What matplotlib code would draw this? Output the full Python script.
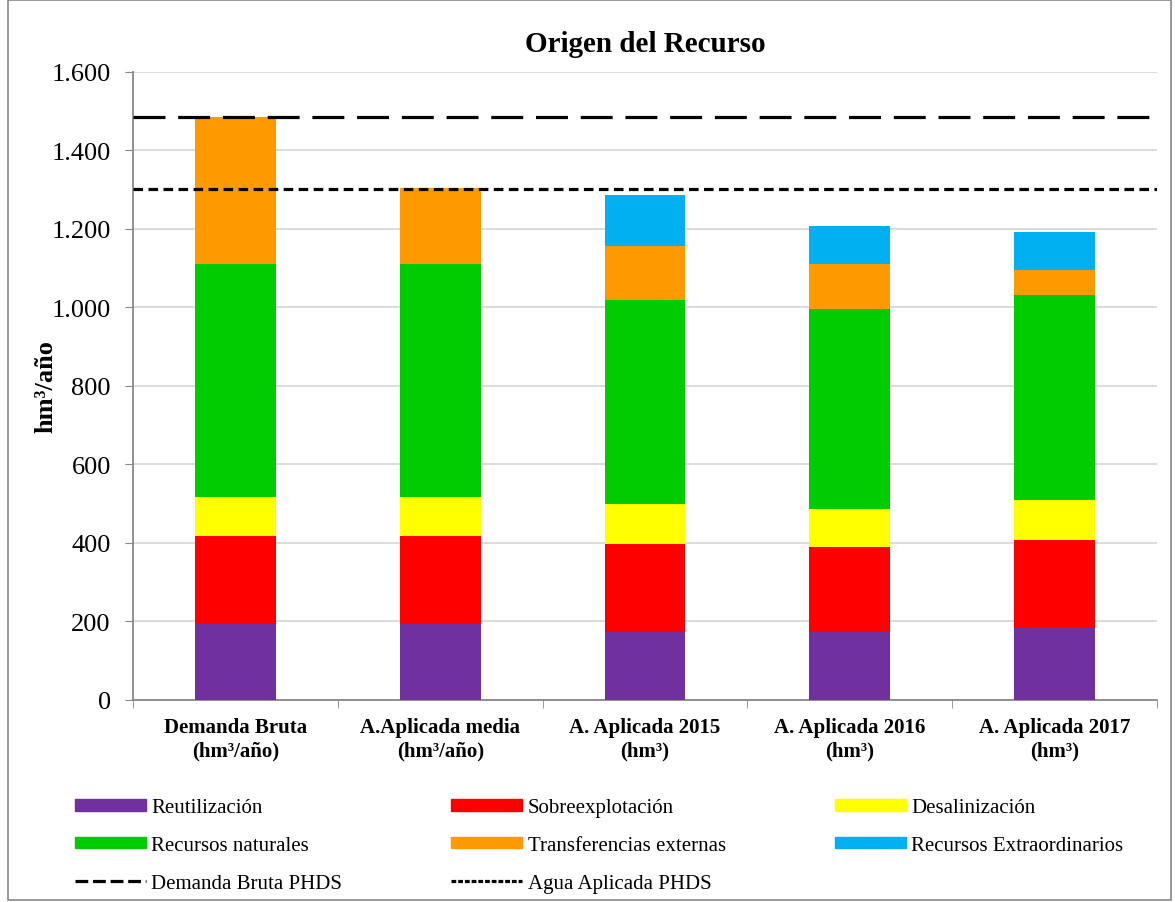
import matplotlib.pyplot as plt
import matplotlib.patches as mpatches
from matplotlib.lines import Line2D
from matplotlib.ticker import FuncFormatter
import numpy as np

plt.rcParams['font.family'] = ['Liberation Serif', 'DejaVu Serif']

categories = ['Demanda Bruta\n(hm³/año)', 'A.Aplicada media\n(hm³/año)',
              'A. Aplicada 2015\n(hm³)', 'A. Aplicada 2016\n(hm³)', 'A. Aplicada 2017\n(hm³)']

reutilizacion = [193, 193, 173, 173, 183]
sobreexplotacion = [225, 225, 224, 217, 225]
desalinizacion = [99, 99, 102, 97, 102]
naturales = [594, 594, 520, 509, 522]
transferencias = [374, 193, 138, 115, 64]
extraordinarios = [0, 0, 130, 97, 96]

demanda_phds = 1485
aplicada_phds = 1302

series = [
    ('Reutilización', reutilizacion, '#7030a0'),
    ('Sobreexplotación', sobreexplotacion, '#ff0000'),
    ('Desalinización', desalinizacion, '#ffff00'),
    ('Recursos naturales', naturales, '#00cc00'),
    ('Transferencias externas', transferencias, '#ff9900'),
    ('Recursos Extraordinarios', extraordinarios, '#00b0f0'),
]

fig = plt.figure(figsize=(11.75, 9.03), dpi=100)
ax = fig.add_axes([0.1132, 0.2237, 0.8715, 0.6955])

x = np.arange(len(categories))
bottom = np.zeros(len(categories))
handles = {}
for name, vals, col in series:
    ax.bar(x, vals, 0.395, bottom=bottom, color=col, zorder=3)
    handles[name] = mpatches.Patch(color=col, label=name)
    bottom += np.array(vals)

ax.axhline(demanda_phds, color='black', lw=2.3, dashes=(10, 4), zorder=4)
ax.axhline(aplicada_phds, color='black', lw=2.3, dashes=(3, 1.7), zorder=4)

ax.set_xlim(-0.5, len(categories) - 0.5)
ax.set_ylim(0, 1600)
ax.set_yticks(np.arange(0, 1601, 200))
ax.yaxis.set_major_formatter(FuncFormatter(lambda v, p: f'{int(v):,}'.replace(',', '.')))
ax.grid(axis='y', color='#d9d9d9', lw=1.3, zorder=0)
ax.set_axisbelow(True)

ax.set_xticks(x)
ax.set_xticklabels(categories, fontsize=15, fontweight='bold', linespacing=1.25)
ax.set_xticks(np.arange(-0.5, len(categories)), minor=True)
ax.tick_params(axis='x', which='major', length=0, pad=12)
ax.tick_params(axis='x', which='minor', length=6, color='#888888')
ax.tick_params(axis='y', labelsize=19, length=6, color='#888888', pad=10)

for s in ['top', 'right']:
    ax.spines[s].set_visible(False)
for s in ['left', 'bottom']:
    ax.spines[s].set_color('#888888')
    ax.spines[s].set_linewidth(1.3)

ax.set_ylabel('hm³/año', fontsize=19, fontweight='bold')
ax.yaxis.set_label_coords(-0.074, 0.5)
ax.set_title('Origen del Recurso', fontsize=21, fontweight='bold', pad=15)

dem_h = Line2D([], [], color='black', lw=2.3, dashes=(4, 1.5), label='Demanda Bruta PHDS')
apl_h = Line2D([], [], color='black', lw=2.3, dashes=(1.5, 0.6), label='Agua Aplicada PHDS')

leg_items = [handles['Reutilización'], handles['Recursos naturales'], dem_h,
             handles['Sobreexplotación'], handles['Transferencias externas'], apl_h,
             handles['Desalinización'], handles['Recursos Extraordinarios']]
fig.legend(handles=leg_items, ncol=3, loc='upper left', bbox_to_anchor=(0.064, 0.115),
           frameon=False, fontsize=15, handlelength=3.4, handleheight=0.5,
           handletextpad=0.25, columnspacing=5.25, labelspacing=0.9,
           borderpad=0, borderaxespad=0)

fig.patches.append(mpatches.Rectangle((0.007, 0.002), 0.99, 0.997, transform=fig.transFigure,
                                      fill=False, edgecolor='#888888', lw=1.2))

plt.savefig('out.png', dpi=100)
